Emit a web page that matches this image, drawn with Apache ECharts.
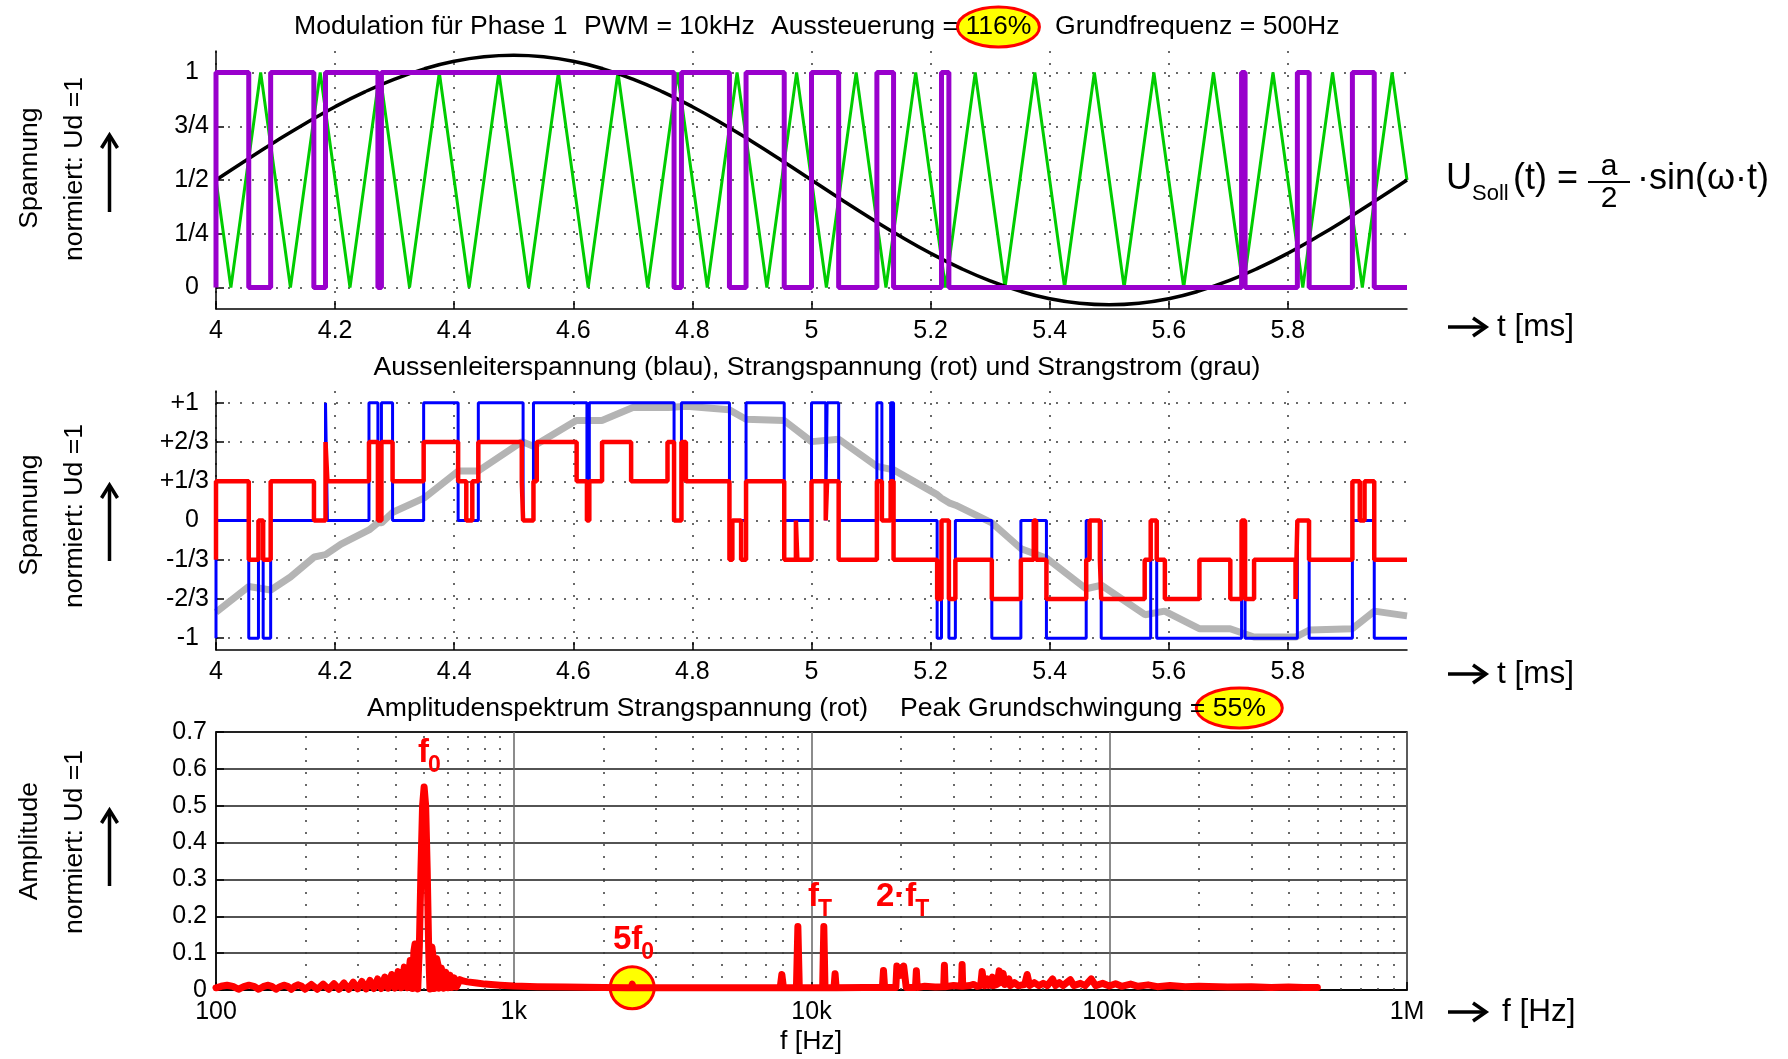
<!DOCTYPE html>
<html>
<head>
<meta charset="utf-8">
<script src="https://cdn.jsdelivr.net/npm/echarts@6/dist/echarts.min.js"></script>
<style>
  html, body { margin: 0; padding: 0; background: #fff; }
  #chart { width: 1788px; height: 1059px; }
</style>
</head>
<body>
<div id="chart"></div>
<script>
// ---------------- tick values and labels ----------------
const timeTicks = [4, 4.2, 4.4, 4.6, 4.8, 5, 5.2, 5.4, 5.6, 5.8];
const levelTicks = [0, 0.25, 0.5, 0.75, 1];
const levelTickLabels = ['0', '1/4', '1/2', '3/4', '1'];
const voltTicks = [-1, -2/3, -1/3, 0, 1/3, 2/3, 1];
const voltTickLabels = ['-1', '-2/3', '-1/3', '0', '+1/3', '+2/3', '+1'];
const freqTickLabels = { 2: '100', 3: '1k', 4: '10k', 5: '100k', 6: '1M' };
const freqMinorGrid = [200, 300, 400, 500, 600, 700, 800, 900,
  2000, 3000, 4000, 5000, 6000, 7000, 8000, 9000,
  20000, 30000, 40000, 50000, 60000, 70000, 80000, 90000,
  200000, 300000, 400000, 500000, 600000, 700000, 800000, 900000];

// ---------------- panel 1: reference sine, carrier, PWM of phase 1 ----------------
const sollTimes = [4.00, 4.05, 4.10, 4.15, 4.20, 4.25, 4.30, 4.35, 4.40, 4.45,
  4.50, 4.55, 4.60, 4.65, 4.70, 4.75, 4.80, 4.85, 4.90, 4.95,
  5.00, 5.05, 5.10, 5.15, 5.20, 5.25, 5.30, 5.35, 5.40, 5.45,
  5.50, 5.55, 5.60, 5.65, 5.70, 5.75, 5.80, 5.85, 5.90, 5.95, 6.00];
const sollValues = [0.500, 0.591, 0.679, 0.763, 0.841, 0.910, 0.969, 1.017, 1.052, 1.073,
  1.080, 1.073, 1.052, 1.017, 0.969, 0.910, 0.841, 0.763, 0.679, 0.591,
  0.500, 0.409, 0.321, 0.237, 0.159, 0.090, 0.031, -0.017, -0.052, -0.073,
  -0.080, -0.073, -0.052, -0.017, 0.031, 0.090, 0.159, 0.237, 0.321, 0.409, 0.500];

const carrierTimes = [4.000, 4.025, 4.075, 4.125, 4.175, 4.225, 4.275, 4.325, 4.375, 4.425,
  4.475, 4.525, 4.575, 4.625, 4.675, 4.725, 4.775, 4.825, 4.875, 4.925,
  4.975, 5.025, 5.075, 5.125, 5.175, 5.225, 5.275, 5.325, 5.375, 5.425,
  5.475, 5.525, 5.575, 5.625, 5.675, 5.725, 5.775, 5.825, 5.875, 5.925,
  5.975, 6.000];
const carrierValues = [0.5, 0, 1, 0, 1, 0, 1, 0, 1, 0,
  1, 0, 1, 0, 1, 0, 1, 0, 1, 0,
  1, 0, 1, 0, 1, 0, 1, 0, 1, 0,
  1, 0, 1, 0, 1, 0, 1, 0, 1, 0,
  1, 0.5];

const pwmTimes = [4.0, 4.0, 4.055, 4.0918, 4.1643, 4.1839, 4.2719, 4.2778, 4.7692, 4.7816,
  4.8622, 4.8901, 4.9542, 5.0, 5.0456, 5.1098, 5.1378, 5.2183, 5.2307, 5.7222,
  5.7281, 5.8159, 5.8357, 5.9083, 5.945, 6.0];
const pwmLevels = [0, 1, 0, 1, 0, 1, 0, 1, 0, 1,
  0, 1, 0, 1, 0, 1, 0, 1, 0, 1,
  0, 1, 0, 1, 0, 0];

// ---------------- panel 2: line voltage, phase voltage, phase current ----------------
const lineVoltTimes = [4.0, 4.0, 4.055, 4.0713, 4.0792, 4.0918, 4.1839, 4.1871,
  4.2569, 4.2719, 4.2778, 4.2965, 4.3487, 4.4066, 4.4405, 4.5157, 4.5331, 4.6229,
  4.6269, 4.7692, 4.7816, 4.8622, 4.8901, 4.9542, 5.0, 5.0239, 5.0262, 5.0456,
  5.1098, 5.1182, 5.1329, 5.1378, 5.211, 5.2183, 5.2307, 5.2416, 5.3028, 5.3516,
  5.3945, 5.4613, 5.4865, 5.5696, 5.5797, 5.7222, 5.7281, 5.8159, 5.8357, 5.9083,
  5.945, 6.0];
const lineVoltValues = [-1, 0, -1, 0, -1, 0, 1, 0,
  1, 0, 1, 0, 1, 0, 1, 0, 1, 0,
  1, 0, 1, 0, 1, 0, 1, 0, 1, 0,
  1, 0, 1, 0, -1, 0, -1, 0, -1, 0,
  -1, 0, -1, 0, -1, 0, -1, 0, -1, 0,
  -1, -1];

const phaseVoltTimes = [4.0, 4.0, 4.055, 4.0713, 4.0792, 4.0918, 4.1645, 4.1839, 4.1871,
  4.2569, 4.2719, 4.2778, 4.2965, 4.3487, 4.4066, 4.4203, 4.4304, 4.4405, 4.5135,
  4.5157, 4.5331, 4.5386, 4.6056, 4.6229, 4.6269, 4.6483, 4.6971, 4.7582, 4.7692,
  4.7816, 4.7891, 4.8622, 4.8671, 4.8818, 4.8901, 4.9542, 4.9738, 4.9762, 5.0,
  5.0239, 5.0262, 5.0456, 5.1098, 5.1182, 5.1329, 5.1378, 5.211, 5.2183, 5.2307,
  5.2416, 5.3028, 5.3516, 5.3732, 5.3771, 5.3945, 5.4613, 5.467, 5.4843, 5.4865,
  5.5595, 5.5696, 5.5797, 5.5934, 5.6514, 5.7033, 5.7222, 5.7281, 5.7432, 5.8128,
  5.8159, 5.8355, 5.9083, 5.9207, 5.9287, 5.945, 6.0];
const phaseVoltValues = [-1/3, 1/3, -1/3, 0, -1/3, 1/3, 0, 2/3, 1/3,
  2/3, 0, 2/3, 1/3, 2/3, 1/3, 0, 1/3, 2/3, 1/3,
  0, 1/3, 2/3, 1/3, 0, 1/3, 2/3, 1/3, 2/3, 0,
  2/3, 1/3, -1/3, 0, -1/3, 1/3, -1/3, 0, -1/3, 1/3,
  0, 1/3, -1/3, 1/3, 0, 1/3, -1/3, -2/3, 0, -2/3,
  -1/3, -2/3, -1/3, 0, -1/3, -2/3, -1/3, 0, -1/3, -2/3,
  -1/3, 0, -1/3, -2/3, -1/3, -2/3, 0, -2/3, -1/3, -2/3,
  0, -1/3, 1/3, 0, 1/3, -1/3, -1/3];

const currentTimes = [4.000, 4.055, 4.092, 4.125, 4.165, 4.184, 4.210, 4.257, 4.272, 4.278,
  4.297, 4.349, 4.407, 4.440, 4.514, 4.533, 4.605, 4.648, 4.700, 4.760,
  4.790, 4.862, 4.890, 4.954, 5.000, 5.046, 5.110, 5.138, 5.211, 5.218,
  5.231, 5.242, 5.303, 5.352, 5.395, 5.461, 5.487, 5.560, 5.593, 5.652,
  5.703, 5.743, 5.813, 5.836, 5.908, 5.945, 6.000];
const currentValues = [-0.78, -0.56, -0.59, -0.48, -0.31, -0.29, -0.20, -0.08, -0.02, -0.02,
  0.07, 0.19, 0.42, 0.42, 0.67, 0.63, 0.85, 0.85, 0.96, 0.96,
  0.97, 0.94, 0.86, 0.85, 0.67, 0.69, 0.46, 0.43, 0.22, 0.19,
  0.15, 0.13, -0.02, -0.24, -0.32, -0.58, -0.55, -0.80, -0.77, -0.92,
  -0.92, -0.99, -0.99, -0.93, -0.92, -0.77, -0.81];

// ---------------- panel 3: amplitude spectrum of the phase voltage ----------------
const specFreq = [100, 104, 109, 114, 119, 124, 129, 134, 139, 144,
  149, 154, 159, 164, 169, 174, 179, 184, 189, 194,
  199, 209, 219, 229, 239, 249, 259, 269, 279, 289,
  299, 309, 319, 329, 339, 349, 359, 369, 379, 389,
  399, 409, 419, 429, 439, 449, 457, 462, 466, 470,
  476, 482, 488, 494, 500, 506, 512, 518, 523, 527,
  531, 535, 540, 546, 551, 556, 561, 571, 581, 591,
  601, 611, 621, 631, 641, 660, 680, 700, 750, 800,
  900, 1000, 1200, 1500, 2000, 2400, 2480, 2500, 2520, 3000,
  3400, 3450, 3500, 5000, 7000, 7850, 7950, 8050, 8900, 9000,
  9100, 10900, 11000, 11100, 11900, 12000, 12100, 15000, 17300, 17450,
  17600, 19200, 19350, 19600, 19900, 20100, 20400, 20650, 20800, 22350,
  22500, 22650, 24000, 26000, 27800, 27950, 28100, 30000, 31900, 32050,
  32200, 34000, 35000, 36000, 37000, 37400, 37700, 38200, 39000, 39300,
  40500, 40800, 42000, 42700, 43300, 44000, 44600, 46000, 46500, 48000,
  49500, 52000, 53000, 54000, 56000, 58000, 60000, 62000, 64500, 66000,
  68000, 70000, 74000, 76000, 80000, 83000, 87000, 90000, 95000, 100000,
  105000, 110000, 118000, 125000, 135000, 145000, 160000, 180000, 200000, 250000,
  300000, 350000, 400000, 450000, 500000];
const specAmp = [0.006, 0.010, 0.013, 0.010, 0.002, 0.009, 0.013, 0.010, 0.002, 0.009,
  0.013, 0.010, 0.002, 0.009, 0.013, 0.010, 0.002, 0.010, 0.014, 0.010,
  0.002, 0.015, 0.002, 0.016, 0.002, 0.017, 0.002, 0.019, 0.002, 0.021,
  0.003, 0.023, 0.003, 0.026, 0.004, 0.030, 0.004, 0.035, 0.005, 0.042,
  0.005, 0.050, 0.006, 0.062, 0.006, 0.080, 0.004, 0.105, 0.125, 0.100,
  0.003, 0.120, 0.330, 0.500, 0.551, 0.500, 0.330, 0.110, 0.003, 0.095,
  0.117, 0.095, 0.004, 0.075, 0.085, 0.070, 0.005, 0.060, 0.005, 0.048,
  0.006, 0.040, 0.007, 0.033, 0.008, 0.028, 0.024, 0.022, 0.019, 0.016,
  0.013, 0.011, 0.009, 0.008, 0.007, 0.006, 0.006, 0.016, 0.006, 0.006,
  0.006, 0.010, 0.006, 0.006, 0.006, 0.006, 0.042, 0.006, 0.006, 0.172,
  0.006, 0.006, 0.172, 0.006, 0.006, 0.044, 0.006, 0.007, 0.007, 0.053,
  0.007, 0.007, 0.065, 0.062, 0.040, 0.045, 0.065, 0.060, 0.007, 0.007,
  0.052, 0.007, 0.010, 0.008, 0.009, 0.067, 0.009, 0.012, 0.010, 0.069,
  0.010, 0.012, 0.015, 0.010, 0.012, 0.050, 0.030, 0.012, 0.030, 0.012,
  0.035, 0.012, 0.015, 0.052, 0.020, 0.045, 0.015, 0.030, 0.012, 0.020,
  0.012, 0.015, 0.042, 0.012, 0.020, 0.012, 0.018, 0.012, 0.030, 0.012,
  0.020, 0.012, 0.028, 0.012, 0.018, 0.012, 0.030, 0.012, 0.018, 0.011,
  0.017, 0.010, 0.016, 0.010, 0.014, 0.009, 0.012, 0.009, 0.010, 0.008,
  0.009, 0.007, 0.008, 0.007, 0.007];

// fifth harmonic marker position (frequency, amplitude)
const fifthHarmonic = [2500, 0.006];

// ---------------- helpers ----------------
const FONT = '"Liberation Sans", Arial, Helvetica, sans-serif';
const pairs = (xs, ys) => xs.map((x, i) => [x, ys[i]]);
const measureCtx = document.createElement('canvas').getContext('2d');
function textWidth(str, size, weight) {
  measureCtx.font = (weight || 'normal') + ' ' + size + 'px ' + FONT;
  return measureCtx.measureText(str).width;
}
// fraction labels sit flush with the axis margin, whole numbers are set in a little further
function labelFor(ticks, labels) {
  return function (v) {
    const i = ticks.findIndex(t => Math.abs(t - v) < 1e-6);
    if (i < 0) return '';
    const s = labels[i];
    return s.indexOf('/') >= 0 ? '{f|' + s + '}' : '{w|' + s + '}';
  };
}
const fracRich = {
  f: { fontSize: 25, fontFamily: FONT, color: '#000' },
  w: { fontSize: 25, fontFamily: FONT, color: '#000', padding: [0, 10, 0, 0] }
};

const dotted = { show: true, lineStyle: { color: '#3a3a3a', width: 1.5, type: [2, 10] } };
const blackLine = { show: true, onZero: false, lineStyle: { color: '#000', width: 1.5 } };
const tickLabelStyle = { color: '#000', fontSize: 25, fontFamily: FONT };

const GRID_LEFT = 216, GRID_W = 1191;

// ---------------- annotation graphics ----------------
const graphics = [];
function addText(str, x, y, size, o) {
  o = o || {};
  graphics.push({
    type: 'text', x: x, y: y, rotation: o.rotation || 0, z: o.z || 50, silent: true,
    style: {
      text: str, fontSize: size, fontFamily: FONT, fontWeight: o.weight || 'normal',
      fill: o.color || '#000', align: o.align || 'left', verticalAlign: o.valign || 'middle'
    }
  });
}
function addEllipse(cx, cy, rx, ry) {
  graphics.push({
    type: 'ellipse', z: 40, silent: true,
    shape: { cx: cx, cy: cy, rx: rx, ry: ry },
    style: { fill: '#ffff00', stroke: '#ff0000', lineWidth: 3 }
  });
}
function addUpArrow(x, yBottom, yTop) {
  graphics.push({ type: 'line', z: 50, silent: true,
    shape: { x1: x, y1: yBottom, x2: x, y2: yTop + 2 },
    style: { stroke: '#000', lineWidth: 3.5 } });
  graphics.push({ type: 'polyline', z: 50, silent: true,
    shape: { points: [[x - 8, yTop + 13], [x, yTop], [x + 8, yTop + 13]] },
    style: { stroke: '#000', lineWidth: 3.5, fill: null } });
}
function addRightArrow(xLeft, xRight, y) {
  graphics.push({ type: 'line', z: 50, silent: true,
    shape: { x1: xLeft, y1: y, x2: xRight - 2, y2: y },
    style: { stroke: '#000', lineWidth: 3.5 } });
  graphics.push({ type: 'polyline', z: 50, silent: true,
    shape: { points: [[xRight - 13, y - 9], [xRight, y], [xRight - 13, y + 9]] },
    style: { stroke: '#000', lineWidth: 3.5, fill: null } });
}

// panel titles
const T = 26.6;
addText('Modulation für Phase 1', 294, 27, T);
addText('PWM = 10kHz', 584, 27, T);
addText('Aussteuerung = 116%', 771, 27, T);
addText('Grundfrequenz = 500Hz', 1055, 27, T);
addEllipse(771 + textWidth('Aussteuerung = ', T) + textWidth('116%', T) / 2, 27, 41, 20);

addText('Aussenleiterspannung (blau), Strangspannung (rot) und Strangstrom (grau)', 817, 368, T, { align: 'center' });

addText('Amplitudenspektrum Strangspannung (rot)', 367, 709, T);
addText('Peak Grundschwingung = 55%', 900, 709, T);
addEllipse(900 + textWidth('Peak Grundschwingung = ', T) + textWidth('55%', T) / 2, 708, 43, 20);

// y axis names with arrows
[[168, 'Spannung', 212, 135], [515, 'Spannung', 561, 485], [841, 'Amplitude', 886, 810]].forEach(function (r) {
  addText(r[1], 30, r[0], T, { align: 'center', rotation: Math.PI / 2 });
  addText('normiert: Ud =1', 75, r[0] + 1, T, { align: 'center', rotation: Math.PI / 2 });
  addUpArrow(109.5, r[2], r[3]);
});

// x axis names on the right
const RN = 31.5;
addRightArrow(1448, 1486, 327); addText('t [ms]', 1497, 327, RN);
addRightArrow(1448, 1486, 674); addText('t [ms]', 1497, 674, RN);
addRightArrow(1448, 1486, 1012); addText('f [Hz]', 1502, 1012, RN);
addText('f [Hz]', 811, 1042, T, { align: 'center' });

// reference voltage formula
addText('U', 1446, 179, 36);
addText('Soll', 1472, 194, 22);
addText('(t) =', 1513, 179, 36);
addText('a', 1609, 167, 30, { align: 'center' });
graphics.push({ type: 'line', z: 50, silent: true, shape: { x1: 1588, y1: 182, x2: 1630, y2: 182 }, style: { stroke: '#000', lineWidth: 2 } });
addText('2', 1609, 199, 30, { align: 'center' });
addText('·sin(ω·t)', 1637, 179, 36);

// spectrum annotations
const R = '#ff0000', B = 'bold';
function fLabel(main, sub, x, yMain) {
  addText(main, x, yMain, 33, { color: R, weight: B });
  addText(sub, x + textWidth(main, 33, B) - 1, yMain + 13, 23, { color: R, weight: B });
}
fLabel('f', '0', 418, 753);
fLabel('f', 'T', 808, 897);
fLabel('2·f', 'T', 876, 897);
fLabel('5f', '0', 613, 940);

// ---------------- chart ----------------
const chart = echarts.init(document.getElementById('chart'), null, { renderer: 'canvas', width: 1788, height: 1059 });

const option = {
  animation: false,
  backgroundColor: '#fff',
  grid: [
    { left: GRID_LEFT, top: 51, width: GRID_W, height: 258 },
    { left: GRID_LEFT, top: 391, width: GRID_W, height: 259 },
    { left: GRID_LEFT, top: 732, width: GRID_W, height: 258, show: true, borderColor: '#000', borderWidth: 1.5, backgroundColor: 'transparent' }
  ],
  xAxis: [
    { gridIndex: 0, type: 'value', min: 4, max: 6,
      axisLine: blackLine,
      axisTick: { show: true, inside: true, length: 8, customValues: timeTicks, lineStyle: { color: '#000', width: 1.5 } },
      axisLabel: Object.assign({ customValues: timeTicks, margin: 10, formatter: v => String(Math.round(v * 10) / 10) }, tickLabelStyle),
      splitLine: dotted },
    { gridIndex: 1, type: 'value', min: 4, max: 6,
      axisLine: blackLine,
      axisTick: { show: true, inside: true, length: 8, customValues: timeTicks, lineStyle: { color: '#000', width: 1.5 } },
      axisLabel: Object.assign({ customValues: timeTicks, margin: 10, formatter: v => String(Math.round(v * 10) / 10) }, tickLabelStyle),
      splitLine: dotted },
    { gridIndex: 2, type: 'log', logBase: 10, min: 100, max: 1000000,
      axisLine: blackLine,
      axisTick: { show: true, inside: true, length: 8, lineStyle: { color: '#000', width: 1.5 } },
      axisLabel: Object.assign({ margin: 10, formatter: v => freqTickLabels[Math.round(Math.log10(v))] || '' }, tickLabelStyle),
      splitLine: { show: true, lineStyle: { color: '#666', width: 1.5 } } }
  ],
  yAxis: [
    { gridIndex: 0, type: 'value', min: -0.1, max: 1.1,
      axisLine: blackLine,
      axisTick: { show: true, inside: true, length: 8, customValues: levelTicks, lineStyle: { color: '#000', width: 1.5 } },
      axisLabel: Object.assign({ customValues: levelTicks, margin: 7, formatter: labelFor(levelTicks, levelTickLabels), rich: fracRich }, tickLabelStyle),
      splitLine: dotted },
    { gridIndex: 1, type: 'value', min: -1.1, max: 1.1,
      axisLine: blackLine,
      axisTick: { show: true, inside: true, length: 8, customValues: voltTicks, lineStyle: { color: '#000', width: 1.5 } },
      axisLabel: Object.assign({ customValues: voltTicks, margin: 7, formatter: labelFor(voltTicks, voltTickLabels), rich: fracRich }, tickLabelStyle),
      splitLine: dotted },
    { gridIndex: 2, type: 'value', min: 0, max: 0.7, interval: 0.1,
      axisLine: blackLine,
      axisTick: { show: true, inside: true, length: 8, lineStyle: { color: '#000', width: 1.5 } },
      axisLabel: Object.assign({ margin: 9, formatter: v => String(Math.round(v * 10) / 10) }, tickLabelStyle),
      splitLine: { show: true, lineStyle: { color: '#1a1a1a', width: 1.5 } } }
  ],
  series: [
    { name: 'Dreieck', type: 'line', xAxisIndex: 0, yAxisIndex: 0, data: pairs(carrierTimes, carrierValues),
      showSymbol: false, lineStyle: { color: '#00cc00', width: 3 }, z: 2 },
    { name: 'Sollwert', type: 'line', xAxisIndex: 0, yAxisIndex: 0, data: pairs(sollTimes, sollValues),
      showSymbol: false, smooth: true, lineStyle: { color: '#000', width: 3.5 }, z: 3 },
    { name: 'PWM', type: 'line', xAxisIndex: 0, yAxisIndex: 0, data: pairs(pwmTimes, pwmLevels), step: 'end',
      showSymbol: false, lineStyle: { color: '#9900cc', width: 5 }, z: 4 },

    { name: 'Strangstrom', type: 'line', xAxisIndex: 1, yAxisIndex: 1, data: pairs(currentTimes, currentValues),
      showSymbol: false, lineStyle: { color: '#b4b4b4', width: 7 }, z: 2 },
    { name: 'Aussenleiterspannung', type: 'line', xAxisIndex: 1, yAxisIndex: 1, data: pairs(lineVoltTimes, lineVoltValues), step: 'end',
      showSymbol: false, lineStyle: { color: '#0000ff', width: 3 }, z: 3 },
    { name: 'Strangspannung', type: 'line', xAxisIndex: 1, yAxisIndex: 1, data: pairs(phaseVoltTimes, phaseVoltValues), step: 'end',
      showSymbol: false, lineStyle: { color: '#ff0000', width: 4.5 }, z: 4 },

    { name: 'Spektrum', type: 'line', xAxisIndex: 2, yAxisIndex: 2, data: pairs(specFreq, specAmp),
      showSymbol: false, lineStyle: { color: '#ff0000', width: 7, cap: 'round', join: 'round' }, z: 4,
      markLine: { silent: true, symbol: ['none', 'none'], z: 1, label: { show: false },
        lineStyle: { color: '#3a3a3a', width: 1.5, type: [2, 10] },
        data: freqMinorGrid.map(f => ({ xAxis: f })) },
      markPoint: { silent: true, z: 1, symbol: 'circle', symbolSize: [44, 42], label: { show: false },
        itemStyle: { color: '#ffff00', borderColor: '#ff0000', borderWidth: 3 },
        data: [{ coord: fifthHarmonic }] } }
  ],
  graphic: { elements: graphics }
};

chart.setOption(option);
</script>
</body>
</html>
